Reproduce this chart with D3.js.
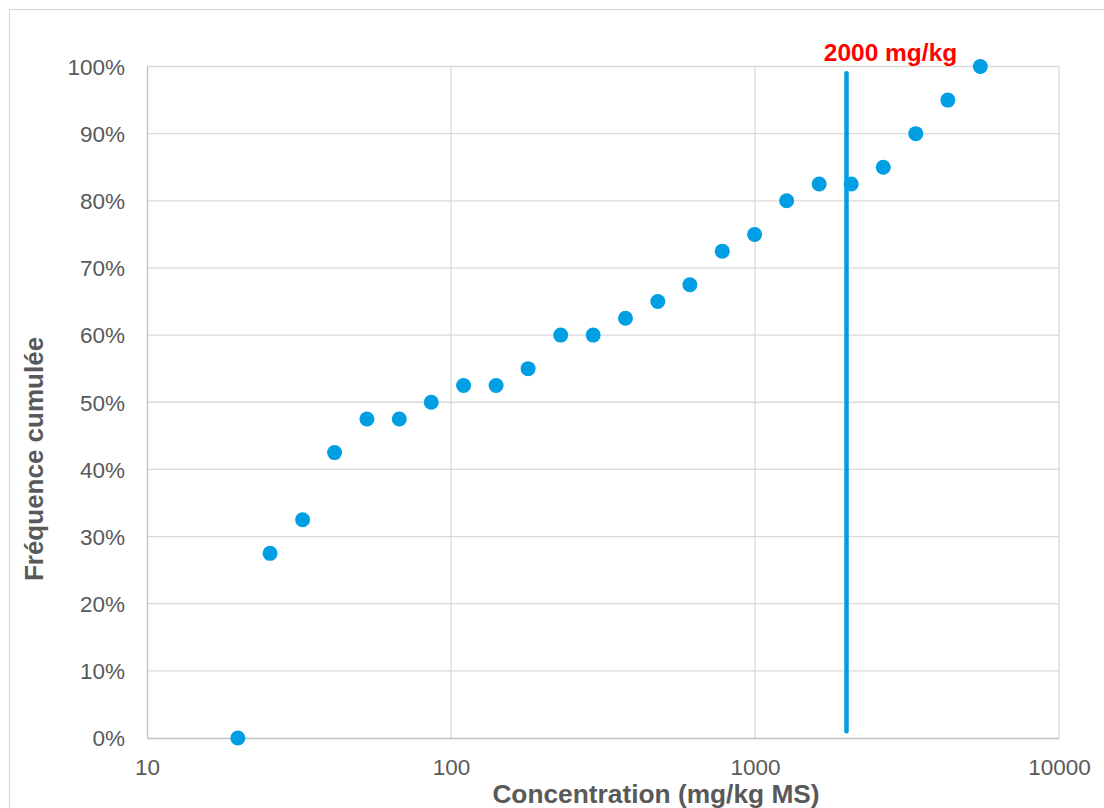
<!DOCTYPE html>
<html>
<head>
<meta charset="utf-8">
<script src="https://cdn.jsdelivr.net/npm/d3@7"></script>
<style>
  html, body { margin: 0; padding: 0; background: #ffffff; }
  svg { display: block; font-family: "Liberation Sans", Arial, sans-serif; }
</style>
</head>
<body>
<svg id="chart" width="1104" height="808"></svg>
<script>
// ---- Data ----
const concentrations = [19.9, 25.4, 32.5, 41.4, 52.9, 67.6, 86.1, 110, 140.7, 179.3,
  229.6, 293.5, 374.9, 479, 610.6, 780.4, 997, 1271, 1626, 2072, 2642, 3380, 4308, 5510];
const cumulativeFreq = [0, 0.275, 0.325, 0.425, 0.475, 0.475, 0.50, 0.525, 0.525, 0.55,
  0.60, 0.60, 0.625, 0.65, 0.675, 0.725, 0.75, 0.80, 0.825, 0.825, 0.85, 0.90, 0.95, 1.00];
const xTickValues = [10, 100, 1000, 10000];
const yTickValues = [0, 0.1, 0.2, 0.3, 0.4, 0.5, 0.6, 0.7, 0.8, 0.9, 1.0];
const thresholdValue = [2000];
const thresholdRange = [0.01, 0.99];
const thresholdLabel = ["2000 mg/kg"];
const xTitle = "Concentration (mg/kg MS)";
const yTitle = "Fréquence cumulée";

// ---- Layout ----
const svg = d3.select("#chart");
const plot = { left: 147, right: 1059, top: 66.5, bottom: 738 };
const gridColor = "#d9d9d9";
const axisColor = "#bfbfbf";
const textColor = "#595959";
const blue = "#009FE3";

// outer chart border
svg.append("rect")
  .attr("x", 9.5).attr("y", 9.5)
  .attr("width", 1110).attr("height", 810)
  .attr("fill", "none").attr("stroke", gridColor).attr("stroke-width", 1.2);

const x = d3.scaleLog().domain([10, 10000]).range([plot.left, plot.right]);
const y = d3.scaleLinear().domain([0, 1]).range([plot.bottom, plot.top]);

// horizontal gridlines
svg.append("g")
  .selectAll("line").data(yTickValues.filter(d => d > 0)).join("line")
  .attr("x1", plot.left).attr("x2", plot.right)
  .attr("y1", d => y(d)).attr("y2", d => y(d))
  .attr("stroke", gridColor).attr("stroke-width", 1.3);

// vertical gridlines
svg.append("g")
  .selectAll("line").data(xTickValues.filter(d => d > 10)).join("line")
  .attr("x1", d => x(d)).attr("x2", d => x(d))
  .attr("y1", plot.top).attr("y2", plot.bottom)
  .attr("stroke", gridColor).attr("stroke-width", 1.3);

// axes via d3 axis generators
const xAxis = d3.axisBottom(x).tickValues(xTickValues).tickFormat(d3.format("d")).tickSize(0).tickPadding(0);
const gx = svg.append("g").attr("transform", `translate(0,${plot.bottom})`).call(xAxis);
gx.select(".domain").attr("stroke", axisColor).attr("stroke-width", 1.3);
gx.selectAll("text")
  .attr("fill", textColor).attr("font-size", 22.5)
  .attr("font-family", "'Liberation Sans', Arial, sans-serif")
  .attr("dy", null).attr("y", 37);

const yAxis = d3.axisLeft(y).tickValues(yTickValues).tickFormat(d3.format(".0%")).tickSize(0).tickPadding(22);
const gy = svg.append("g").attr("transform", `translate(${plot.left},0)`).call(yAxis);
gy.select(".domain").attr("stroke", axisColor).attr("stroke-width", 1.3);
gy.selectAll("text")
  .attr("fill", textColor).attr("font-size", 22.5)
  .attr("font-family", "'Liberation Sans', Arial, sans-serif")
  .attr("dy", "0.35em");

// threshold line
svg.append("g").selectAll("line").data(thresholdValue).join("line")
  .attr("x1", d => x(d)).attr("x2", d => x(d))
  .attr("y1", y(thresholdRange[1])).attr("y2", y(thresholdRange[0]))
  .attr("stroke", blue).attr("stroke-width", 4.5).attr("stroke-linecap", "round");

svg.append("g").selectAll("text").data(thresholdLabel).join("text")
  .attr("x", x(thresholdValue[0]) + 44).attr("y", 61)
  .attr("text-anchor", "middle")
  .attr("fill", "#ff0000").attr("font-weight", "bold").attr("font-size", 24.5)
  .text(d => d);

// points
const pts = concentrations.map((c, i) => ({ c, f: cumulativeFreq[i] }));
svg.append("g").selectAll("circle").data(pts).join("circle")
  .attr("cx", d => x(d.c)).attr("cy", d => y(d.f))
  .attr("r", 7.5).attr("fill", blue);

// axis titles
svg.append("text")
  .attr("x", 656).attr("y", 803)
  .attr("text-anchor", "middle")
  .attr("fill", textColor).attr("font-weight", "bold").attr("font-size", 26.3)
  .text(xTitle);

svg.append("text")
  .attr("transform", `translate(43,459) rotate(-90)`)
  .attr("text-anchor", "middle")
  .attr("fill", textColor).attr("font-weight", "bold").attr("font-size", 26)
  .text(yTitle);
</script>
</body>
</html>
